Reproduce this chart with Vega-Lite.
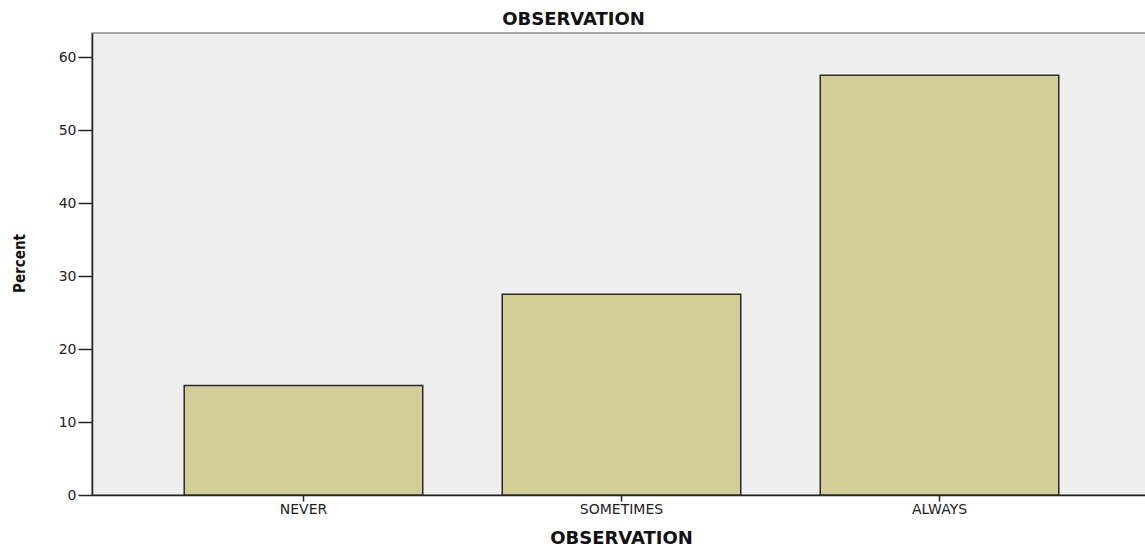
{
  "$schema": "https://vega.github.io/schema/vega-lite/v6.json",
  "autosize": "none",
  "padding": {"left": 92, "top": 33, "right": 0, "bottom": 54},
  "width": 1059,
  "height": 462,
  "background": "white",
  "title": {
    "text": "OBSERVATION",
    "font": "DejaVu Sans",
    "fontSize": 18,
    "fontWeight": "bold",
    "color": "#111111",
    "anchor": "middle",
    "frame": "group",
    "dx": -48,
    "offset": 4
  },
  "data": {
    "values": [
      {"category": "NEVER", "percent": 15.0},
      {"category": "SOMETIMES", "percent": 27.5},
      {"category": "ALWAYS", "percent": 57.5}
    ]
  },
  "mark": {"type": "bar", "fill": "#d3cd98", "stroke": "#2a2a2a", "strokeWidth": 1.5},
  "encoding": {
    "x": {
      "field": "category",
      "type": "nominal",
      "sort": ["NEVER", "SOMETIMES", "ALWAYS"],
      "scale": {"paddingInner": 0.25, "paddingOuter": 0.29},
      "axis": {
        "title": "OBSERVATION",
        "titleFont": "DejaVu Sans",
        "titleFontSize": 18,
        "titleFontWeight": "bold",
        "titleColor": "#111111",
        "titleX": 529,
        "titleY": 48,
        "titleBaseline": "alphabetic",
        "labelAngle": 0,
        "labelFont": "DejaVu Sans",
        "labelFontSize": 14,
        "labelColor": "#222222",
        "labelPadding": 1,
        "tickSize": 6,
        "tickColor": "#222222",
        "tickWidth": 1.5,
        "domainColor": "#222222",
        "domainWidth": 1.5,
        "grid": false
      }
    },
    "y": {
      "field": "percent",
      "type": "quantitative",
      "scale": {"domain": [0, 63.3], "nice": false},
      "axis": {
        "title": "Percent",
        "titleFont": "DejaVu Sans Condensed",
        "titleFontSize": 15,
        "titleFontWeight": "bold",
        "titleColor": "#111111",
        "titleX": -73,
        "titleY": 230,
        "titleBaseline": "middle",
        "titleAngle": -90,
        "values": [0, 10, 20, 30, 40, 50, 60],
        "labelFont": "DejaVu Sans",
        "labelFontSize": 14,
        "labelColor": "#222222",
        "labelPadding": 2,
        "tickSize": 14,
        "tickColor": "#222222",
        "tickWidth": 1.5,
        "domainColor": "#222222",
        "domainWidth": 1.5,
        "grid": false
      }
    }
  },
  "config": {
    "view": {"fill": "#efefef", "stroke": "#8a8a8a", "strokeWidth": 1.5}
  }
}
